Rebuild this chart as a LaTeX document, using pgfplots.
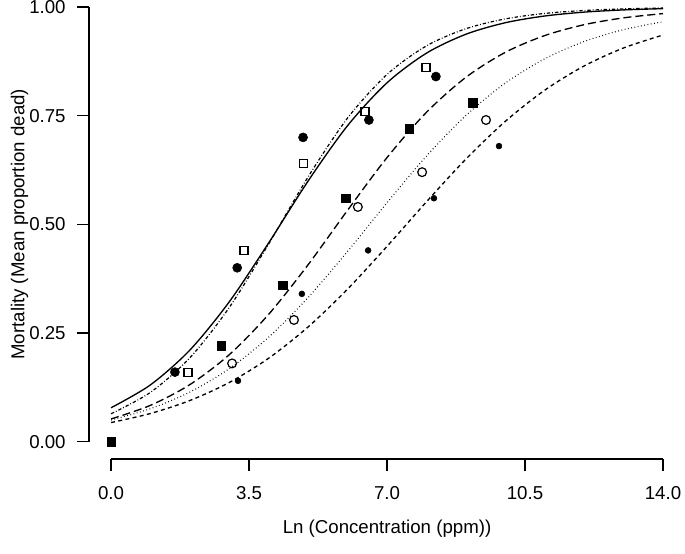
\documentclass[border=0pt]{standalone}
\usepackage{fontspec}
\setmainfont{Liberation Sans}
\usepackage{pgfplots}
\pgfplotsset{compat=1.18}
\begin{document}
\begin{tikzpicture}
\begin{axis}[
  scale only axis, width=430.6pt, height=339.1pt,
  xmin=-0.56, xmax=14, ymin=-0.04, ymax=1,
  clip=false,
  axis x line*=bottom, axis y line*=left,
  axis line style={draw=none,-},
  tick align=outside, major tick length=9pt,
  tick style={black, line width=0.9pt},
  xtick={0,3.5,7,10.5,14}, ytick={0,0.25,0.5,0.75,1},
  xticklabels={0.0,3.5,7.0,10.5,14.0},
  yticklabels={0.00,0.25,0.50,0.75,1.00},
  tick label style={font=\fontsize{14}{16}\selectfont},
  xticklabel style={yshift=-8pt},
  yticklabel style={xshift=-5pt},
]
% axis lines (R style, offset)
\draw[line width=0.9pt] (axis cs:0,-0.04) -- (axis cs:14,-0.04);
\draw[line width=0.9pt] (axis cs:-0.56,0) -- (axis cs:-0.56,1);
\node[font=\fontsize{14}{16}\selectfont, anchor=center] at ([yshift=-52pt]axis cs:7,-0.04) {Ln (Concentration (ppm))};
\node[font=\fontsize{14}{16}\selectfont, anchor=center, rotate=90] at ([xshift=-52pt]axis cs:-0.56,0.5) {Mortality (Mean proportion dead)};
\coordinate (bl) at ([xshift=-66.75pt,yshift=-70.5pt]axis cs:-0.56,-0.04);
\coordinate (tr) at ([xshift=16.5pt,yshift=5.25pt]axis cs:14,1);

% fitted curves
\addplot[black, line width=1pt, smooth] coordinates {
(0,0.0780) (1,0.1307) (2,0.2108) (3,0.3219) (4,0.4576) (5,0.5999) (6,0.7271) (7,0.8256)
(8,0.8938) (9,0.9373) (10,0.9638) (11,0.9793) (12,0.9882) (13,0.9933) (14,0.9962)};
\addplot[black, line width=0.9pt, smooth, dash pattern=on 2.5pt off 1.5pt on 0.6pt off 1.5pt] coordinates {
(0,0.0642) (1,0.1135) (2,0.1931) (3,0.3089) (4,0.4551) (5,0.6094) (6,0.7446) (7,0.8449)
(8,0.9105) (9,0.9500) (10,0.9726) (11,0.9852) (12,0.9920) (13,0.9957) (14,0.9977)};
\addplot[black, line width=1pt, smooth, dash pattern=on 6pt off 3pt] coordinates {
(0,0.0522) (1,0.0836) (2,0.1313) (3,0.2002) (4,0.2932) (5,0.4073) (6,0.5325) (7,0.6536)
(8,0.7577) (9,0.8382) (10,0.8957) (11,0.9343) (12,0.9593) (13,0.9750) (14,0.9848)};
\addplot[black, line width=0.8pt, smooth, dash pattern=on 0.6pt off 1.9pt] coordinates {
(0,0.0497) (1,0.0759) (2,0.1141) (3,0.1680) (4,0.2405) (5,0.3318) (6,0.4378) (7,0.5498)
(8,0.6570) (9,0.7503) (10,0.8249) (11,0.8808) (12,0.9206) (13,0.9479) (14,0.9661)};
\addplot[black, line width=1pt, smooth, dash pattern=on 3pt off 2.5pt] coordinates {
(0,0.0439) (1,0.0648) (2,0.0947) (3,0.1362) (4,0.1921) (5,0.2641) (6,0.3511) (7,0.4494)
(8,0.5518) (9,0.6500) (10,0.7369) (11,0.8086) (12,0.8644) (13,0.9058) (14,0.9355)};

% observed points
\addplot[only marks, mark=*, mark size=3.4pt, black] coordinates {
(1.62,0.16) (3.20,0.40) (4.87,0.70) (6.54,0.74) (8.24,0.84)};
\addplot[only marks, mark=square, mark size=3pt, black, mark options={line width=0.9pt}] coordinates {
(1.95,0.16) (3.37,0.44) (4.89,0.64) (6.44,0.76) (7.99,0.86)};
\addplot[only marks, mark=square*, mark size=3.2pt, black] coordinates {
(0,0) (2.79,0.22) (4.36,0.36) (5.96,0.56) (7.56,0.72) (9.18,0.78)};
\addplot[only marks, mark=o, mark size=3.3pt, black, mark options={line width=0.9pt}] coordinates {
(3.07,0.18) (4.64,0.28) (6.26,0.54) (7.89,0.62) (9.51,0.74)};
\addplot[only marks, mark=*, mark size=2.2pt, black] coordinates {
(3.22,0.14) (4.84,0.34) (6.52,0.44) (8.19,0.56) (9.84,0.68)};
\end{axis}
\pgfresetboundingbox
\path[use as bounding box] (bl) rectangle (tr);
\end{tikzpicture}
\end{document}
